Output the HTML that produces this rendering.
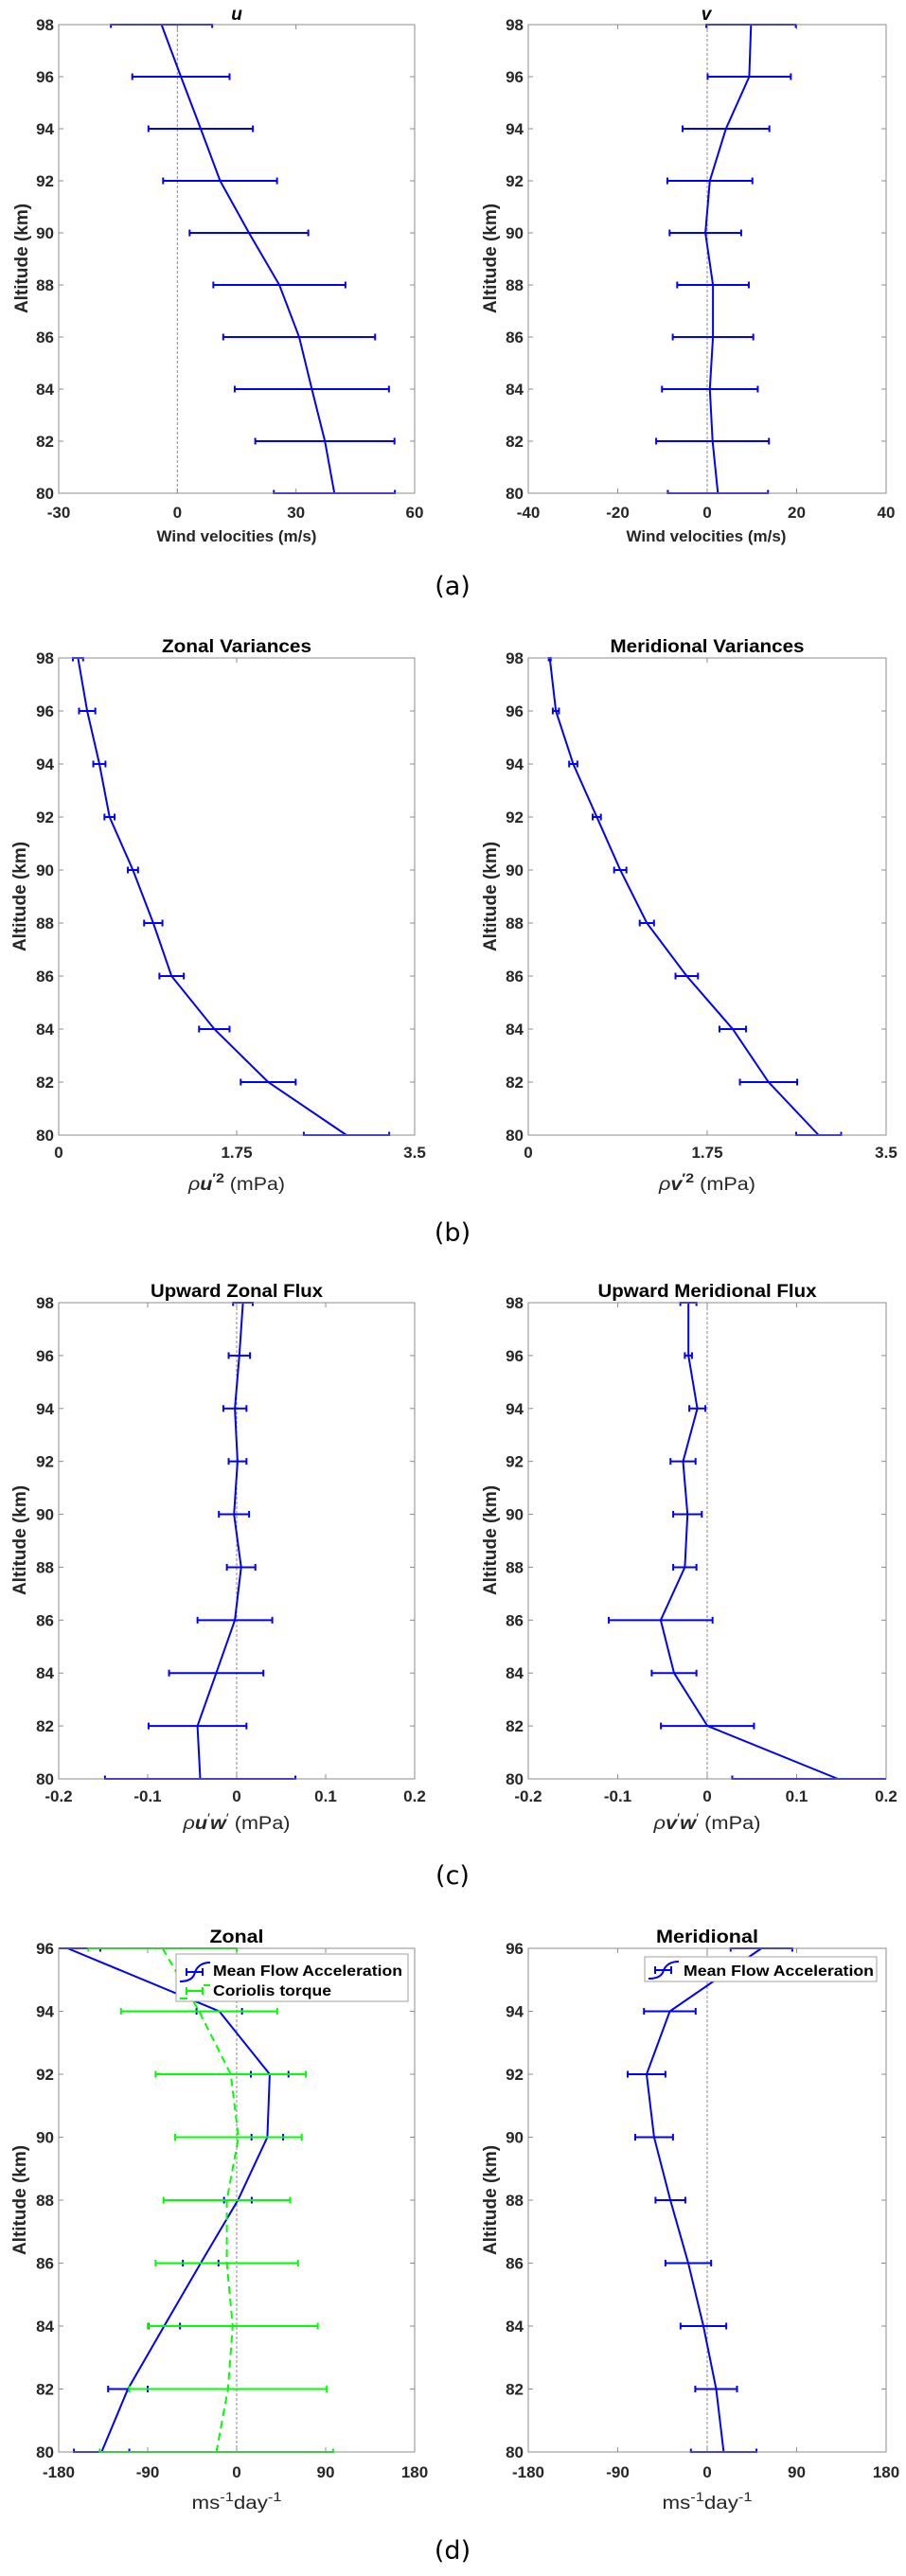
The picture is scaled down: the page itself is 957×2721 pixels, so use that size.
<!DOCTYPE html>
<html><head><meta charset="utf-8"><title>Wind and flux profiles</title>
<style>
html,body{margin:0;padding:0;background:#fff;}
svg{display:block;font-family:"Liberation Sans",Arial,sans-serif;}
.tk{font-weight:bold;font-size:17px;fill:#262626;}
.ttl{font-weight:bold;fill:#000;}
.lab{font-weight:bold;font-size:17px;fill:#262626;}
.yl{font-weight:bold;font-size:19px;fill:#262626;}
.xl{font-size:19px;fill:#262626;}
.pl{font-family:"DejaVu Sans","Liberation Sans",sans-serif;font-size:27px;fill:#000;}
</style></head>
<body>
<svg id="fig" width="957" height="2721" viewBox="0 0 957 2721" xmlns="http://www.w3.org/2000/svg">
<rect width="957" height="2721" fill="#fff"/>
<!-- (a) -->
<text x="250" y="21" text-anchor="middle" class="ttl" font-style="italic" font-size="19">u</text>
<text x="746" y="21" text-anchor="middle" class="ttl" font-style="italic" font-size="19">v</text>
<text x="250" y="572" text-anchor="middle" class="lab">Wind velocities (m/s)</text>
<text x="746" y="572" text-anchor="middle" class="lab">Wind velocities (m/s)</text>
<text transform="translate(29,273) rotate(-90)" text-anchor="middle" class="yl">Altitude (km)</text>
<text transform="translate(524,273) rotate(-90)" text-anchor="middle" class="yl">Altitude (km)</text>
<text x="478" y="628" text-anchor="middle" class="pl">(a)</text>
<!-- (b) -->
<text x="250" y="689" text-anchor="middle" class="ttl" font-size="19" textLength="158" lengthAdjust="spacingAndGlyphs">Zonal Variances</text>
<text x="747" y="689" text-anchor="middle" class="ttl" font-size="19" textLength="205" lengthAdjust="spacingAndGlyphs">Meridional Variances</text>
<text x="250" y="1257" text-anchor="middle" class="xl" textLength="102" lengthAdjust="spacingAndGlyphs"><tspan font-style="italic">ρ</tspan><tspan font-style="italic" font-weight="bold">u</tspan><tspan font-weight="bold" dy="-8" font-size="14">′2</tspan><tspan dy="8"> (mPa)</tspan></text>
<text x="747" y="1257" text-anchor="middle" class="xl" textLength="102" lengthAdjust="spacingAndGlyphs"><tspan font-style="italic">ρ</tspan><tspan font-style="italic" font-weight="bold">v</tspan><tspan font-weight="bold" dy="-8" font-size="14">′2</tspan><tspan dy="8"> (mPa)</tspan></text>
<text transform="translate(27,947) rotate(-90)" text-anchor="middle" class="yl">Altitude (km)</text>
<text transform="translate(524,947) rotate(-90)" text-anchor="middle" class="yl">Altitude (km)</text>
<text x="478" y="1311" text-anchor="middle" class="pl">(b)</text>
<!-- (c) -->
<text x="250" y="1370" text-anchor="middle" class="ttl" font-size="19" textLength="182" lengthAdjust="spacingAndGlyphs">Upward Zonal Flux</text>
<text x="747" y="1370" text-anchor="middle" class="ttl" font-size="19" textLength="231" lengthAdjust="spacingAndGlyphs">Upward Meridional Flux</text>
<text x="250" y="1932" text-anchor="middle" class="xl" textLength="113" lengthAdjust="spacingAndGlyphs"><tspan font-style="italic">ρ</tspan><tspan font-style="italic" font-weight="bold">u</tspan><tspan dy="-7" font-size="14">′</tspan><tspan dy="7" font-style="italic" font-weight="bold">w</tspan><tspan dy="-7" font-size="14">′</tspan><tspan dy="7"> (mPa)</tspan></text>
<text x="747" y="1932" text-anchor="middle" class="xl" textLength="113" lengthAdjust="spacingAndGlyphs"><tspan font-style="italic">ρ</tspan><tspan font-style="italic" font-weight="bold">v</tspan><tspan dy="-7" font-size="14">′</tspan><tspan dy="7" font-style="italic" font-weight="bold">w</tspan><tspan dy="-7" font-size="14">′</tspan><tspan dy="7"> (mPa)</tspan></text>
<text transform="translate(27,1627) rotate(-90)" text-anchor="middle" class="yl">Altitude (km)</text>
<text transform="translate(524,1627) rotate(-90)" text-anchor="middle" class="yl">Altitude (km)</text>
<text x="478" y="1990" text-anchor="middle" class="pl">(c)</text>
<!-- (d) -->
<text x="250" y="2052" text-anchor="middle" class="ttl" font-size="19" textLength="57" lengthAdjust="spacingAndGlyphs">Zonal</text>
<text x="747" y="2052" text-anchor="middle" class="ttl" font-size="19" textLength="108" lengthAdjust="spacingAndGlyphs">Meridional</text>
<text x="250" y="2650" text-anchor="middle" class="xl" textLength="95" lengthAdjust="spacingAndGlyphs">ms<tspan dy="-8" font-size="14">-1</tspan><tspan dy="8">day</tspan><tspan dy="-8" font-size="14">-1</tspan></text>
<text x="747" y="2650" text-anchor="middle" class="xl" textLength="95" lengthAdjust="spacingAndGlyphs">ms<tspan dy="-8" font-size="14">-1</tspan><tspan dy="8">day</tspan><tspan dy="-8" font-size="14">-1</tspan></text>
<text transform="translate(27,2324) rotate(-90)" text-anchor="middle" class="yl">Altitude (km)</text>
<text transform="translate(524,2324) rotate(-90)" text-anchor="middle" class="yl">Altitude (km)</text>
<text x="478" y="2703" text-anchor="middle" class="pl">(d)</text>
<g id="plots"></g>
<g id="legends">
 <g>
  <rect x="186" y="2064" width="245" height="50" fill="#fff" stroke="#a0a0a0" stroke-width="1"/>
  <path d="M190 2093 Q204 2093 206 2083 Q210 2073 222 2073" fill="none" stroke="#0000ff" stroke-width="2"/>
  <path d="M197 2083 H214 M197 2079 V2087 M214 2079 V2087" stroke="#0000ff" stroke-width="2"/>
  <text x="225" y="2087" font-weight="bold" font-size="16" textLength="200" lengthAdjust="spacingAndGlyphs">Mean Flow Acceleration</text>
  <path d="M190 2111 H198 M203 2103 H210 M215 2097 H222" stroke="#00ff00" stroke-width="2"/>
  <path d="M197 2103 H214 M197 2099 V2107 M214 2099 V2107" stroke="#00ff00" stroke-width="2"/>
  <text x="225" y="2108" font-weight="bold" font-size="16" textLength="125" lengthAdjust="spacingAndGlyphs">Coriolis torque</text>
 </g>
 <g>
  <rect x="681" y="2067" width="245" height="26" fill="#fff" stroke="#a0a0a0" stroke-width="1"/>
  <path d="M685 2090 Q699 2090 701 2081 Q705 2072 717 2072" fill="none" stroke="#0000ff" stroke-width="2"/>
  <path d="M692 2081 H709 M692 2077 V2085 M709 2077 V2085" stroke="#0000ff" stroke-width="2"/>
  <text x="722" y="2087" font-weight="bold" font-size="16" textLength="201" lengthAdjust="spacingAndGlyphs">Mean Flow Acceleration</text>
 </g>
</g>
</svg>
<script>
// ---------- data ----------
const ALT_A = [98,96,94,92,90,88,86,84,82,80];
const ALT_D = [96,94,92,90,88,86,84,82,80];
const YTICKS_A = [80,82,84,86,88,90,92,94,96,98];
const YTICKS_D = [80,82,84,86,88,90,92,94,96];

const U_XTICKS = [-30,0,30,60];
const U_MEAN = [-4,0.9,5.9,10.8,18.1,25.8,30.8,34.0,37.3,39.7];
const U_ERR  = [12.8,12.3,13.2,14.4,15,16.7,19.2,19.5,17.6,15.3];

const V_XTICKS = [-40,-20,0,20,40];
const V_MEAN = [9.8,9.4,4.2,0.6,-0.4,1.3,1.3,0.6,1.2,2.4];
const V_ERR  = [10,9.3,9.7,9.5,8,8,9,10.7,12.6,11.2];

const VAR_XTICKS = [0,1.75,3.5];
const ZV_MEAN = [0.19,0.28,0.40,0.50,0.73,0.93,1.11,1.53,2.06,2.83];
const ZV_ERR  = [0.05,0.08,0.06,0.05,0.05,0.09,0.12,0.15,0.27,0.42];
const MV_MEAN = [0.21,0.27,0.44,0.67,0.90,1.16,1.55,2.00,2.35,2.84];
const MV_ERR  = [0.01,0.03,0.04,0.04,0.06,0.07,0.11,0.13,0.28,0.22];

const FLUX_XTICKS = [-0.2,-0.1,0,0.1,0.2];
const UW_MEAN = [0.007,0.003,-0.002,0.001,-0.003,0.005,-0.002,-0.023,-0.044,-0.041];
const UW_ERR  = [0.011,0.012,0.013,0.010,0.017,0.016,0.042,0.053,0.055,0.107];
const VW_MEAN = [-0.021,-0.021,-0.011,-0.027,-0.022,-0.025,-0.052,-0.037,0.0003,0.146];
const VW_ERR  = [0.009,0.004,0.009,0.014,0.016,0.013,0.058,0.025,0.052,0.118];

const ACC_XTICKS = [-180,-90,0,90,180];
const MFA_Z_MEAN = [-171,-17.6,33.4,31,1.2,-36.4,-73.3,-110,-136.6];
const MFA_Z_ERR  = [33,23,19,16,14,18,16,20,28];
const COR_MEAN = [-75,-38,-6,1.8,-10,-10,-4,-8.8,-20.5];
const COR_ERR  = [75,79,76,64,64,72,86,100,118];
const MFA_M_MEAN = [54.6,-37.6,-61,-53.4,-37,-19,-3.8,9,16.6];
const MFA_M_ERR  = [31,26,19,19,15,23,23,21,33];

// ---------- drawing ----------
const NS = 'http://www.w3.org/2000/svg';
const root = document.getElementById('plots');
function mk(tag, attrs, parent){
  const el = document.createElementNS(NS, tag);
  for (const k in attrs) el.setAttribute(k, attrs[k]);
  (parent||root).appendChild(el);
  return el;
}
function fmt(v){ return String(v); }
let clipId = 0;

function panel(p){
  const g = mk('g', {});
  
  
  const sx = v => p.x0 + (v - p.xmin)/(p.xmax - p.xmin)*(p.x1 - p.x0);
  const sy = v => p.y1 - (v - p.ymin)/(p.ymax - p.ymin)*(p.y1 - p.y0);
  const cid = 'clip' + (clipId++);
  const cp = mk('clipPath', {id: cid}, g);
  mk('rect', {x:p.x0, y:p.y0-1, width:p.x1-p.x0, height:p.y1-p.y0+2}, cp);
  const tg = mk('g', {stroke:'#8c8c8c','stroke-width':1}, g);
  
  
  p.xticks.forEach(t => {
    const x = sx(t);
    mk('line', {x1:x, x2:x, y1:p.y1, y2:p.y1-5}, tg);
    mk('line', {x1:x, x2:x, y1:p.y0, y2:p.y0+5}, tg);
    const lab = mk('text', {x:x, y:p.xlabY, 'text-anchor':'middle', class:'tk', stroke:'none'}, g);
    lab.textContent = fmt(t);
    
    
  });
  p.yticks.forEach(t => {
    const y = sy(t);
    mk('line', {x1:p.x0, x2:p.x0+5, y1:y, y2:y}, tg);
    mk('line', {x1:p.x1, x2:p.x1-5, y1:y, y2:y}, tg);
    const lab = mk('text', {x:p.x0-5, y:y+6, 'text-anchor':'end', class:'tk'}, g);
    lab.textContent = fmt(t);
    
    
  });
  const z = mk('line', {x1:sx(0), x2:sx(0), y1:p.y0, y2:p.y1, stroke:'#8a8a8a', 'stroke-width':1, 'stroke-dasharray':'3,2'}, g);
  
  
  const dg = mk('g', {'clip-path':'url(#'+cid+')'}, g);
  p.series.forEach(s => {
    const sg = mk('g', {}, dg);
    
    
    s.alt.forEach((a,i) => {
      const y = sy(a), xl = sx(s.mean[i]-s.err[i]), xr = sx(s.mean[i]+s.err[i]);
      const eb = mk('path', {d:'M'+xl+' '+y+' H'+xr+' M'+xl+' '+(y-3.5)+' V'+(y+3.5)+' M'+xr+' '+(y-3.5)+' V'+(y+3.5),
        stroke:s.barColor||s.color, 'stroke-width':s.bw||2, fill:'none'}, sg);
      
      
    });
    const pts = s.alt.map((a,i) => sx(s.mean[i]).toFixed(1)+','+sy(a).toFixed(1)).join(' ');
    const ln = mk('polyline', {points:pts, fill:'none', stroke:s.color, 'stroke-width':2, 'stroke-dasharray':s.dash||'none'}, sg);
    
    
  });
  const fr = mk('rect', {x:p.x0, y:p.y0, width:p.x1-p.x0, height:p.y1-p.y0, fill:'none', stroke:'#8c8c8c', 'stroke-width':1}, g);
  
  
}

const L = {x0:62, x1:438}, R = {x0:558, x1:936};
const rowA = {y0:26, y1:521, ymin:80, ymax:98, yticks:YTICKS_A, xlabY:547};
const rowB = {y0:695, y1:1199, ymin:80, ymax:98, yticks:YTICKS_A, xlabY:1223};
const rowC = {y0:1376, y1:1879, ymin:80, ymax:98, yticks:YTICKS_A, xlabY:1903};
const rowD = {y0:2058, y1:2590, ymin:80, ymax:96, yticks:YTICKS_D, xlabY:2617};

panel(Object.assign({name:'panel-u', xmin:-30, xmax:60, xticks:U_XTICKS,
  series:[{name:'u-series', alt:ALT_A, mean:U_MEAN, err:U_ERR, color:'#0000ff'}]}, L, rowA));
panel(Object.assign({name:'panel-v', xmin:-40, xmax:40, xticks:V_XTICKS,
  series:[{name:'v-series', alt:ALT_A, mean:V_MEAN, err:V_ERR, color:'#0000ff'}]}, R, rowA));
panel(Object.assign({name:'panel-zonal-variance', xmin:0, xmax:3.5, xticks:VAR_XTICKS,
  series:[{name:'zonal-variance-series', alt:ALT_A, mean:ZV_MEAN, err:ZV_ERR, color:'#0000ff'}]}, L, rowB));
panel(Object.assign({name:'panel-meridional-variance', xmin:0, xmax:3.5, xticks:VAR_XTICKS,
  series:[{name:'meridional-variance-series', alt:ALT_A, mean:MV_MEAN, err:MV_ERR, color:'#0000ff'}]}, R, rowB));
panel(Object.assign({name:'panel-zonal-flux', xmin:-0.2, xmax:0.2, xticks:FLUX_XTICKS,
  series:[{name:'zonal-flux-series', alt:ALT_A, mean:UW_MEAN, err:UW_ERR, color:'#0000ff'}]}, L, rowC));
panel(Object.assign({name:'panel-meridional-flux', xmin:-0.2, xmax:0.2, xticks:FLUX_XTICKS,
  series:[{name:'meridional-flux-series', alt:ALT_A, mean:VW_MEAN, err:VW_ERR, color:'#0000ff'}]}, R, rowC));
panel(Object.assign({name:'panel-zonal-acceleration', xmin:-180, xmax:180, xticks:ACC_XTICKS,
  series:[{name:'mean-flow-acceleration-zonal', alt:ALT_D, mean:MFA_Z_MEAN, err:MFA_Z_ERR, color:'#0000ff'},
          {name:'coriolis-torque', alt:ALT_D, mean:COR_MEAN, err:COR_ERR, color:'#00ff00', dash:'8,5'}]}, L, rowD));
panel(Object.assign({name:'panel-meridional-acceleration', xmin:-180, xmax:180, xticks:ACC_XTICKS,
  series:[{name:'mean-flow-acceleration-meridional', alt:ALT_D, mean:MFA_M_MEAN, err:MFA_M_ERR, color:'#0000ff'}]}, R, rowD));
</script>
</body></html>
